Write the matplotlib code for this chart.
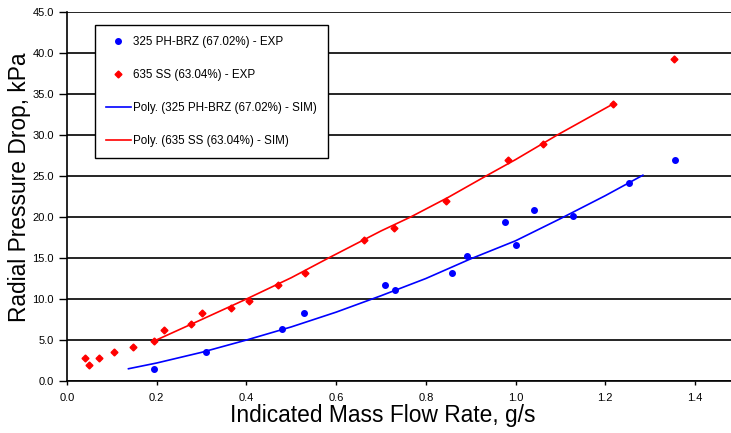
import matplotlib.pyplot as plt

plt.rcParams['font.family'] = ['Liberation Sans', 'DejaVu Sans']

brz_x = [0.194, 0.309, 0.479, 0.528, 0.709, 0.731, 0.858, 0.891, 0.976, 1.001, 1.041, 1.128, 1.253, 1.356]
brz_y = [1.5, 3.5, 6.3, 8.3, 11.7, 11.1, 13.2, 15.2, 19.4, 16.6, 20.8, 20.1, 24.2, 27.0]

ss_x = [0.041, 0.050, 0.071, 0.104, 0.148, 0.195, 0.216, 0.277, 0.300, 0.366, 0.405, 0.471,
        0.531, 0.662, 0.729, 0.844, 0.984, 1.061, 1.218, 1.353]
ss_y = [2.8, 2.0, 2.8, 3.5, 4.2, 4.9, 6.2, 6.9, 8.3, 8.9, 9.7, 11.7,
        13.2, 17.2, 18.7, 22.0, 26.9, 28.9, 33.8, 39.3]

# simulated (poly) curves, sampled from the drawn lines
brz_sim_x = [0.137, 0.2, 0.3, 0.4, 0.5, 0.6, 0.7, 0.8, 0.9, 1.0, 1.1, 1.2, 1.284]
brz_sim_y = [1.5, 2.2, 3.5, 5.0, 6.6, 8.4, 10.4, 12.5, 14.9, 17.1, 19.8, 22.6, 25.1]

ss_sim_x = [0.195, 0.3, 0.4, 0.5, 0.583, 0.7, 0.766, 0.85, 0.934, 1.0, 1.093, 1.218]
ss_sim_y = [4.9, 7.5, 10.0, 12.6, 15.0, 18.3, 20.0, 22.4, 25.0, 27.0, 30.0, 33.8]

xticks = [0.0, 0.2, 0.4, 0.6, 0.8, 1.0, 1.2, 1.4]
yticks = [0, 5, 10, 15, 20, 25, 30, 35, 40, 45]

fig = plt.figure(figsize=(7.31, 4.33), dpi=100)
ax = fig.add_axes([0.0917, 0.12, 0.9203, 0.8523])

ax.plot(brz_x, brz_y, 'o', color='#0000ff', ms=4, mec='#0000ff', label='325 PH-BRZ (67.02%) - EXP', zorder=3)
ax.plot(ss_x, ss_y, 'D', color='#ff0000', ms=3.5, mec='#ff0000', label='635 SS (63.04%) - EXP', zorder=3)
ax.plot(brz_sim_x, brz_sim_y, '-', color='#0000ff', lw=1.2, label='Poly. (325 PH-BRZ (67.02%) - SIM)', zorder=3)
ax.plot(ss_sim_x, ss_sim_y, '-', color='#ff0000', lw=1.2, label='Poly. (635 SS (63.04%) - SIM)', zorder=3)

ax.set_xlim(0, 1.5)
ax.set_ylim(0, 45)
ax.set_xticks(xticks)
ax.set_xticklabels([f'{t:.1f}' for t in xticks])
ax.set_yticks(yticks)
ax.set_yticklabels([f'{t:.1f}' for t in yticks])
ax.tick_params(axis='both', labelsize=8, colors='black', width=1)
ax.tick_params(axis='y', length=6)
ax.tick_params(axis='x', length=3, pad=5.5)

ax.grid(axis='y', color='black', lw=1.2)
ax.set_axisbelow(True)
for side in ['top', 'right']:
    ax.spines[side].set_visible(False)
ax.spines['left'].set_linewidth(1.2)
ax.spines['bottom'].set_linewidth(1.2)

ax.set_xlabel('Indicated Mass Flow Rate, g/s', fontsize=16.4)
ax.xaxis.set_label_coords(0.469, -0.063)
ax.set_ylabel('Radial Pressure Drop, kPa', fontsize=16.4)
ax.yaxis.set_label_coords(-0.054, 0.526)

leg = ax.legend(loc='upper left', bbox_to_anchor=(95 / 731, 1 - 25 / 433), bbox_transform=fig.transFigure,
                borderaxespad=0, fontsize=8.4, frameon=True, fancybox=False, framealpha=1,
                edgecolor='black', labelspacing=1.8, handlelength=2.1, handletextpad=0.2,
                borderpad=0.95, numpoints=1)
leg.get_frame().set_linewidth(1)

fig.savefig('out.png', dpi=100)
